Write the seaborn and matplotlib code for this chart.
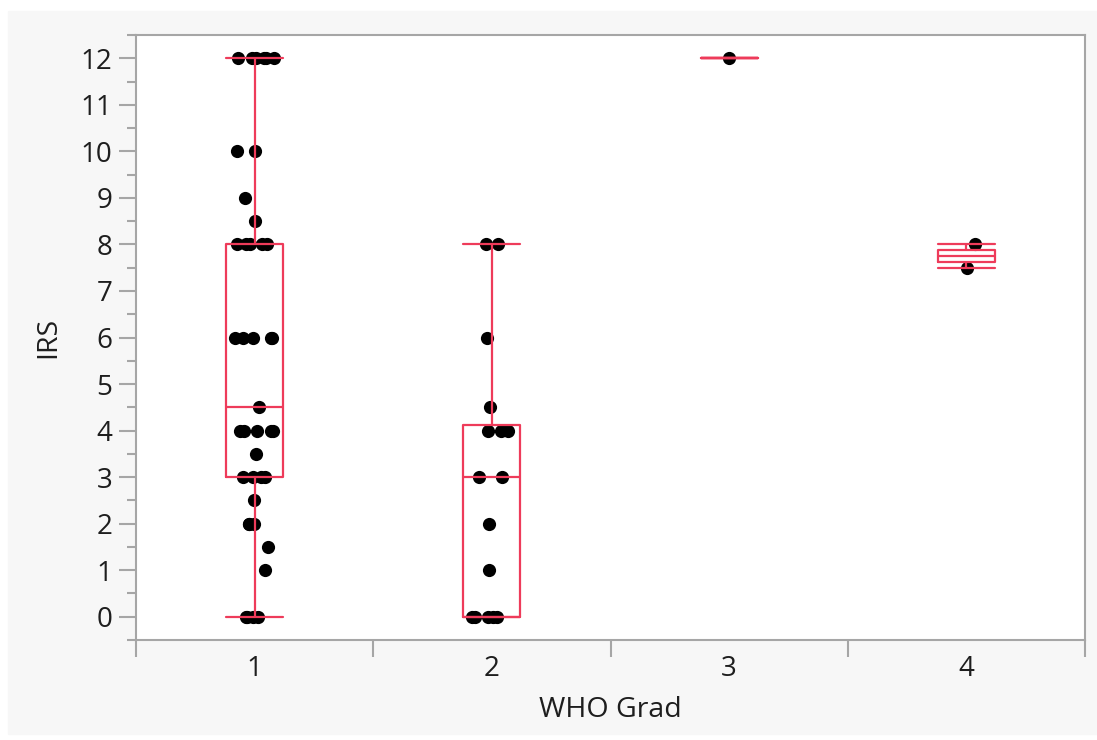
import numpy as np
import pandas as pd
import matplotlib.pyplot as plt
import seaborn as sns
from matplotlib.patches import Rectangle
from matplotlib.ticker import MultipleLocator, FixedLocator

# IRS scores per WHO grade
grad_1 = [12, 12, 12, 12, 12, 12, 10, 10, 9, 8.5, 8, 8, 8, 8, 8,
          6, 6, 6, 6, 6, 4.5, 4, 4, 4, 4, 4, 3.5, 3, 3, 3, 3, 2.5,
          2, 2, 2, 1.5, 1, 0, 0, 0, 0]
grad_2 = [8, 8, 6, 4.5, 4, 4, 4, 3, 3, 2, 1, 0, 0, 0, 0, 0]
grad_3 = [12]
grad_4 = [8, 7.5]
grades = ["1", "2", "3", "4"]

df = pd.DataFrame({
    "WHO Grad": (["1"] * len(grad_1) + ["2"] * len(grad_2)
                 + ["3"] * len(grad_3) + ["4"] * len(grad_4)),
    "IRS": grad_1 + grad_2 + grad_3 + grad_4,
})

red = "#ee3b5a"
gray = "#a6a6a6"
txt = "#1e1e1e"

sns.set_style("white")
plt.rcParams['font.family'] = ['Open Sans', 'DejaVu Sans']

fig = plt.figure(figsize=(10.97, 7.40), dpi=100)
fig.patches.append(Rectangle((8 / 1097, 6 / 740), 1089 / 1097, 723 / 740,
                             transform=fig.transFigure, color="#f7f7f7", zorder=-5))
ax = fig.add_axes([136 / 1097, 100 / 740, 949 / 1097, 605 / 740])
ax.set_facecolor("white")

np.random.seed(7)
sns.stripplot(data=df, x="WHO Grad", y="IRS", order=grades, color="black",
              size=9.5, jitter=0.085, zorder=1, ax=ax)
sns.boxplot(data=df, x="WHO Grad", y="IRS", order=grades, width=0.24, fill=False,
            color=red, linecolor=red, linewidth=1.6, showfliers=False,
            capwidths=0.24, ax=ax)

ax.set_xlim(-0.5, 3.5)
ax.set_ylim(-0.5, 12.5)
ax.yaxis.set_major_locator(MultipleLocator(1))
ax.yaxis.set_minor_locator(MultipleLocator(0.5))
ax.xaxis.set_minor_locator(FixedLocator([-0.5, 0.5, 1.5, 2.5, 3.5]))

ax.tick_params(axis="x", which="major", bottom=True, length=0, pad=11,
               labelsize=20, labelcolor=txt)
ax.tick_params(axis="x", which="minor", bottom=True, length=12, width=1.5, color=gray)
ax.tick_params(axis="y", which="major", left=True, length=12, width=1.5, color=gray,
               pad=5, labelsize=20, labelcolor=txt)
ax.tick_params(axis="y", which="minor", left=True, length=6.5, width=1.5, color=gray)
for s in ax.spines.values():
    s.set_color(gray)
    s.set_linewidth(1.5)

ax.set_xlabel("WHO Grad", fontsize=20.5, color=txt, labelpad=9)
ax.set_ylabel("IRS", fontsize=20.5, color=txt, labelpad=13)

fig.savefig("out.png", dpi=100, facecolor="white")
